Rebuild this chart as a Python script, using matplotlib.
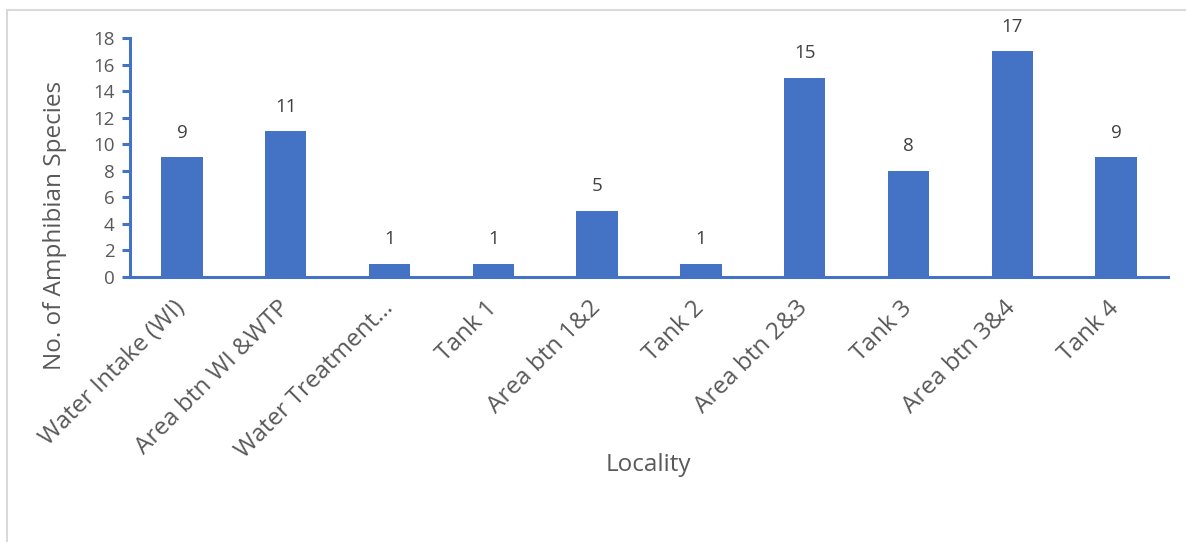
import matplotlib
matplotlib.use("Agg")
import matplotlib.pyplot as plt
from matplotlib.patches import Rectangle

# Species counts per sampling locality
localities = [
    "Water Intake (WI)", "Area btn WI &WTP", "Water Treatment\u2026", "Tank 1",
    "Area btn 1&2", "Tank 2", "Area btn 2&3", "Tank 3", "Area btn 3&4", "Tank 4",
]
species_counts = [9, 11, 1, 1, 5, 1, 15, 8, 17, 9]
y_ticks = [0, 2, 4, 6, 8, 10, 12, 14, 16, 18]

BLUE = "#4472C4"
GREY = "#595959"
plt.rcParams["font.family"] = ["Open Sans", "DejaVu Sans"]

W, H = 1186, 542
fig = plt.figure(figsize=(W / 100, H / 100), dpi=100)

# light frame around the chart area
fig.patches.append(Rectangle((7 / W, -0.1), 1.2, (H - 10) / H + 0.1,
                             transform=fig.transFigure, fill=False,
                             edgecolor="#D9D9D9", linewidth=1.5))

ax = fig.add_axes([130 / W, (H - 277) / H, (1168 - 130) / W, (277 - 38) / H])
x = range(len(localities))
bars = ax.bar(x, species_counts, width=0.4, color=BLUE, zorder=2)

for xi, v in zip(x, species_counts):
    ax.annotate(str(v), (xi, v), xytext=(0, 14), textcoords="offset points",
                ha="center", va="baseline", fontsize=13.5, color="#404040")

ax.set_xlim(-0.5, len(localities) - 0.5)
ax.set_ylim(0, 18)
ax.set_yticks(y_ticks)
ax.tick_params(axis="y", length=6, width=2.2, color=BLUE, labelsize=13.5,
               labelcolor=GREY, pad=5)
ax.set_xticks(list(x))
ax.set_xticklabels(localities, rotation=45, ha="right", va="center",
                   rotation_mode="anchor", fontsize=17.5, color=GREY)
ax.tick_params(axis="x", length=0, pad=20)

for side in ("top", "right"):
    ax.spines[side].set_visible(False)
for side in ("left", "bottom"):
    ax.spines[side].set_color(BLUE)
    ax.spines[side].set_linewidth(2.2)
    ax.spines[side].set_zorder(3)

fig.text(55 / W, 1 - 225 / H, "No. of Amphibian Species", rotation=90,
         ha="center", va="center", fontsize=17.5, color=GREY)
fig.text(648 / W, 1 - 465 / H, "Locality", ha="center", va="center",
         fontsize=17.5, color=GREY)

fig.savefig("out.png", dpi=100)
